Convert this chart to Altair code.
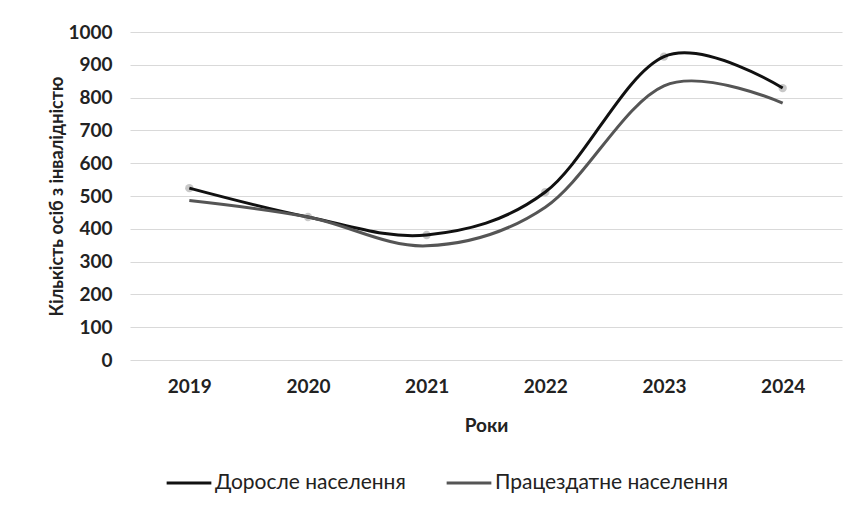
import altair as alt
import pandas as pd

years = ["2019", "2020", "2021", "2022", "2023", "2024"]
adult = [524, 436, 381, 512, 925, 829]
working = [486, 436, 348, 466, 836, 783]
series_names = ["Доросле населення", "Працездатне населення"]
y_ticks = [0, 100, 200, 300, 400, 500, 600, 700, 800, 900, 1000]

rows = []
for y, a, w in zip(years, adult, working):
    rows.append({"Рік": y, "Серія": series_names[0], "Значення": a})
    rows.append({"Рік": y, "Серія": series_names[1], "Значення": w})
df = pd.DataFrame(rows)

FONT = "Lato"

x_enc = alt.X("Рік:O", sort=years, scale=alt.Scale(type="point", padding=0.5),
              axis=alt.Axis(title="Роки", labelAngle=0, labelFontSize=19, labelFontWeight="bold",
                            labelColor="#222", titleFontSize=19, titleFontWeight="bold",
                            titleColor="#222", labelPadding=17, titlePadding=20,
                            domain=False, ticks=False, grid=False))
y_enc = alt.Y("Значення:Q", scale=alt.Scale(domain=[0, 1000]),
              axis=alt.Axis(title="Кількість осіб з інвалідністю", values=y_ticks, format="d",
                            labelOverlap=False,
                            labelFontSize=19, labelFontWeight="bold", labelColor="#222",
                            titleFontSize=18, titleFontWeight="bold", titleColor="#222",
                            labelPadding=18, titleX=-64, titleY=164,
                            domain=False, ticks=False, gridColor="#d9d9d9", gridWidth=1))

lines = alt.Chart(df).mark_line(interpolate="cardinal", tension=0, strokeWidth=3).encode(
    x=x_enc,
    y=y_enc,
    color=alt.Color("Серія:N", sort=series_names,
                    scale=alt.Scale(domain=series_names, range=["#111111", "#555555"]),
                    legend=alt.Legend(title=None, orient="none", legendX=35, legendY=427,
                                      direction="horizontal", symbolType="stroke",
                                      symbolStrokeWidth=3, symbolSize=2000,
                                      labelFontSize=21, labelFont=FONT, labelColor="#222",
                                      labelLimit=400, columnPadding=34, labelOffset=2)),
)

markers = alt.Chart(df[df["Серія"] == series_names[0]]).mark_circle(
    size=70, color="#9a9a9a", opacity=0.55
).encode(x=x_enc, y=y_enc)

chart = alt.layer(markers, lines).properties(
    width=712, height=328,
    autosize=alt.AutoSizeParams(type="none"),
    padding={"left": 122, "top": 24, "right": 11, "bottom": 148},
).configure(font=FONT).configure_view(stroke=None)

chart.save("out.html", embed_options={"renderer": "svg", "actions": False})
